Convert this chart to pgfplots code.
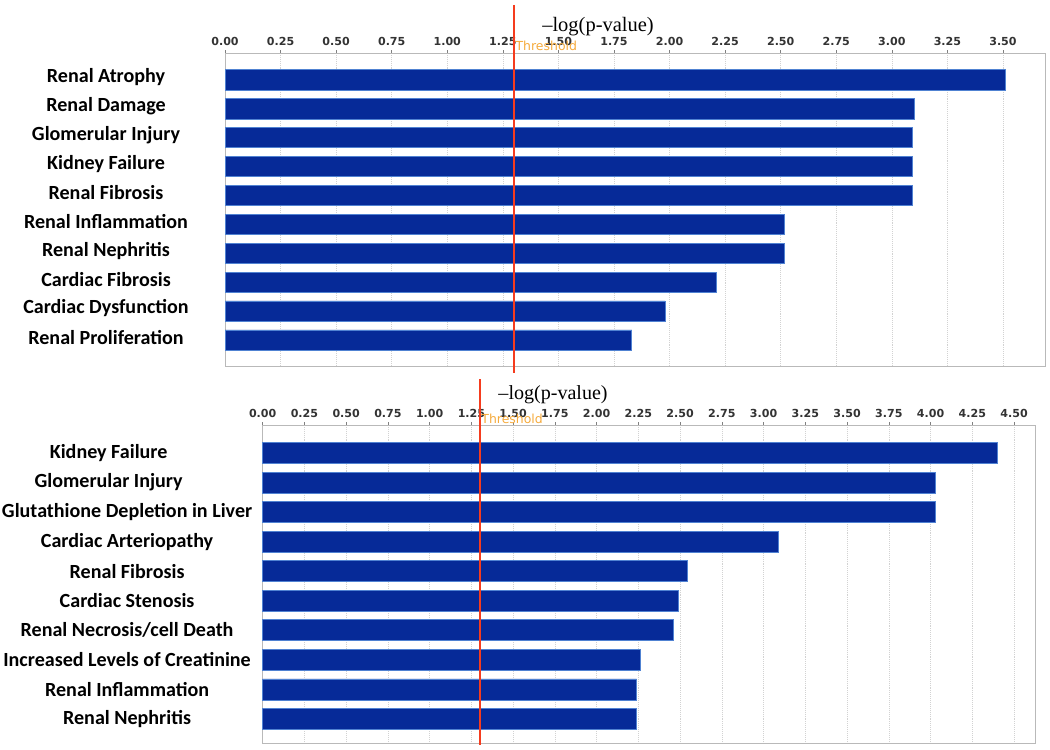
\documentclass[border=0pt]{standalone}
\usepackage{fontspec}
\setmainfont{Carlito}
\newfontfamily\tickfont{DejaVu Sans}
\newfontfamily\titlefont{Liberation Serif}
\usepackage{pgfplots}
\pgfplotsset{compat=1.18}
\definecolor{barblue}{RGB}{6,42,152}
\definecolor{baredge}{RGB}{80,130,210}
\definecolor{thrred}{RGB}{245,60,30}
\definecolor{thrlab}{RGB}{245,170,60}
\definecolor{framec}{RGB}{185,185,185}
\pgfplotsset{ipastyle/.style={
  scale only axis, xmin=0, y dir=reverse, ytick={0,...,9},
  axis line style={framec},
  xtick pos=right, xticklabel pos=right, tick align=outside,
  major tick length=2pt,
  ytick style={draw=none},
  xtick style={gray, thin},
  xmajorgrids, major grid style={densely dotted, gray!35},
  xticklabel style={font=\tickfont\bfseries\fontsize{8}{9}\selectfont, text=black!80},
  /pgf/number format/.cd, fixed, fixed zerofill, precision=2, assume math mode=true, /pgfplots/.cd,
  yticklabel style={font=\bfseries\fontsize{14.5}{16}\selectfont, anchor=center, text=black},
  clip=false,
}}
\begin{document}
\begin{tikzpicture}
\path[use as bounding box] (0,0) rectangle (758.84pt,542.0pt);
% ---------- top chart ----------
\begin{axis}[ipastyle,
  at={(162.61pt,277.52pt)}, anchor=south west,
  width=592.6pt, height=226.2pt,
  xmax=3.689, ymin=-0.934, ymax=9.9,
  xtick={0,0.25,0.5,0.75,1,1.25,1.5,1.75,2,2.25,2.5,2.75,3,3.25,3.5},
  yticklabel style={xshift=-84.0pt, yshift=2pt},
  yticklabels={Renal Atrophy, Renal Damage, Glomerular Injury, Kidney Failure, Renal Fibrosis, Renal Inflammation, Renal Nephritis, Cardiac Fibrosis, Cardiac Dysfunction, Renal Proliferation},
]
\addplot[xbar, bar width=0.7, fill=barblue, draw=baredge, line width=0.5pt] coordinates {
(3.51,0) (3.10,1) (3.09,2) (3.09,3) (3.09,4) (2.515,5) (2.515,6) (2.21,7) (1.98,8) (1.83,9)};
\addplot[draw=thrred, line width=0.8pt, mark=none] coordinates {(1.3,-2.6) (1.3,10.14)};
\node[anchor=west, text=thrlab, font=\tickfont\fontsize{9}{9}\selectfont, inner sep=1pt] at (axis cs:1.3,-1.176) {Threshold};
\end{axis}
% ---------- bottom chart ----------
\begin{axis}[ipastyle,
  at={(189.85pt,5.06pt)}, anchor=south west,
  width=558.1pt, height=229.8pt,
  xmax=4.625, ymin=-0.946, ymax=9.81,
  xtick={0,0.25,0.5,0.75,1,1.25,1.5,1.75,2,2.25,2.5,2.75,3,3.25,3.5,3.75,4,4.25,4.5},
  yticklabel style={xshift=-96.0pt},
  yticklabels={{Kidney Failure\hspace*{26.7pt}}, {Glomerular Injury\hspace*{26.7pt}}, Glutathione Depletion in Liver, Cardiac Arteriopathy, Renal Fibrosis, Cardiac Stenosis, Renal Necrosis/cell Death, Increased Levels of Creatinine, Renal Inflammation, Renal Nephritis},
]
\addplot[xbar, bar width=0.71, fill=barblue, draw=baredge, line width=0.5pt] coordinates {
(4.40,0) (4.03,1) (4.03,2) (3.09,3) (2.545,4) (2.49,5) (2.46,6) (2.26,7) (2.24,8) (2.24,9)};
\addplot[draw=thrred, line width=1.4pt, mark=none] coordinates {(1.3,-2.50) (1.3,9.88)};
\node[anchor=west, text=thrlab, font=\tickfont\fontsize{9}{9}\selectfont, inner sep=1pt] at (axis cs:1.3,-1.149) {Threshold};
\end{axis}
\node[font=\titlefont\fontsize{14.8}{16}\selectfont] at (432.2pt,522.5pt) {–log(p-value)};
\node[font=\titlefont\fontsize{14.5}{16}\selectfont] at (399.7pt,257.0pt) {–log(p-value)};
\end{tikzpicture}
\end{document}
